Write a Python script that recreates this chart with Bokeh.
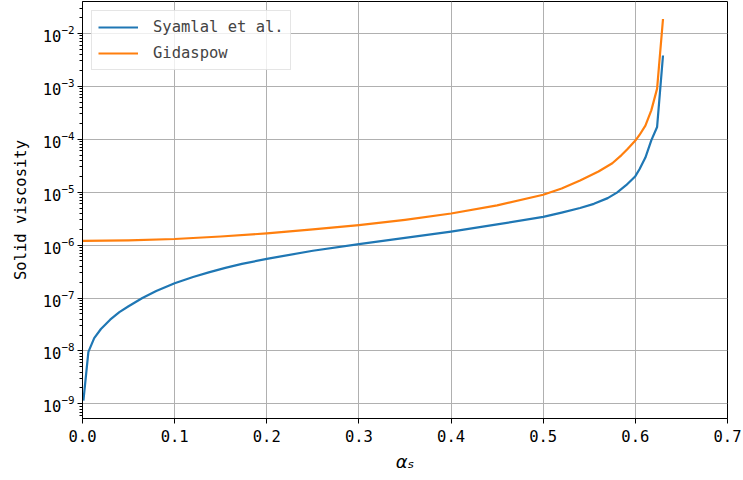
from bokeh.plotting import figure
from bokeh.models import (FixedTicker, CustomJSTickFormatter, LogTickFormatter, Legend,
                          LegendItem, Range1d, ColumnDataSource)
from bokeh.embed import file_html
from bokeh.resources import INLINE

# ---- data ----
syamlal_alpha = [0.001, 0.0064, 0.0127, 0.02, 0.03, 0.04, 0.05, 0.065, 0.08, 0.1, 0.12,
                 0.137, 0.155, 0.173, 0.2, 0.25, 0.3, 0.35, 0.4, 0.45, 0.5, 0.52, 0.54,
                 0.555, 0.57, 0.58, 0.59, 0.6, 0.6045, 0.6109, 0.6173, 0.6236, 0.63]
syamlal_mu = [1.15e-9, 9.6e-9, 1.75e-8, 2.6e-8, 3.9e-8, 5.4e-8, 7.0e-8, 1.0e-7, 1.35e-7,
              1.9e-7, 2.5e-7, 3.05e-7, 3.7e-7, 4.4e-7, 5.5e-7, 7.8e-7, 1.04e-6, 1.37e-6,
              1.8e-6, 2.45e-6, 3.4e-6, 4.1e-6, 5.0e-6, 6.0e-6, 7.7e-6, 9.8e-6, 1.35e-5,
              2.0e-5, 2.7e-5, 4.5e-5, 9.5e-5, 1.7e-4, 3.8e-3]

gidaspow_alpha = [0.0, 0.05, 0.1, 0.15, 0.2, 0.25, 0.3, 0.35, 0.4, 0.45, 0.5, 0.52, 0.54,
                  0.56, 0.575, 0.585, 0.5918, 0.6, 0.6045, 0.6109, 0.6173, 0.6236, 0.63]
gidaspow_mu = [1.2e-6, 1.23e-6, 1.3e-6, 1.45e-6, 1.66e-6, 1.97e-6, 2.38e-6, 3.0e-6, 3.95e-6,
               5.6e-6, 8.9e-6, 1.17e-5, 1.65e-5, 2.45e-5, 3.5e-5, 5.0e-5, 6.6e-5, 9.4e-5,
               1.2e-4, 1.8e-4, 3.5e-4, 9.0e-4, 1.86e-2]

series_names = ["Syamlal et al.", "Gidaspow"]
series_colors = ["#1f77b4", "#ff7f0e"]

x_ticks = [0.0, 0.1, 0.2, 0.3, 0.4, 0.5, 0.6, 0.7]
x_tick_labels = ["0.0", "0.1", "0.2", "0.3", "0.4", "0.5", "0.6", "0.7"]
y_ticks = [1e-9, 1e-8, 1e-7, 1e-6, 1e-5, 1e-4, 1e-3, 1e-2]
y_minor = [m * 10.0 ** k for k in range(-10, -1) for m in range(2, 10)]

FONT = "DejaVu Sans Mono"

p = figure(width=743, height=480, x_range=Range1d(0, 0.7),
           y_range=Range1d(5.3e-10, 3.98e-2), y_axis_type="log",
           output_backend="svg", toolbar_location=None,
           min_border_left=82, min_border_right=16, min_border_top=1,
           min_border_bottom=62)

p.outline_line_color = "black"
p.outline_line_width = 1
p.outline_line_alpha = 1.0

src1 = ColumnDataSource(dict(x=syamlal_alpha, y=syamlal_mu))
src2 = ColumnDataSource(dict(x=gidaspow_alpha, y=gidaspow_mu))
r1 = p.line("x", "y", source=src1, line_color=series_colors[0], line_width=2.2,
            line_join="round")
r2 = p.line("x", "y", source=src2, line_color=series_colors[1], line_width=2.2,
            line_join="round")

# axes
p.xaxis.ticker = FixedTicker(ticks=x_ticks)
p.xaxis.formatter = CustomJSTickFormatter(
    args=dict(vals=x_ticks, labels=x_tick_labels),
    code="""
    let best = 0, d = 1e9;
    for (let i = 0; i < vals.length; i++) { const dd = Math.abs(vals[i] - tick); if (dd < d) { d = dd; best = i; } }
    return labels[best];
    """)
p.yaxis.ticker = FixedTicker(ticks=y_ticks, minor_ticks=y_minor)
p.yaxis.formatter = LogTickFormatter()

for ax in (p.xaxis[0], p.yaxis[0]):
    ax.axis_line_color = "black"
    ax.major_tick_line_color = "black"
    ax.major_tick_in = 0
    ax.major_tick_out = 5
    ax.minor_tick_in = 0
    ax.minor_tick_out = 3
    ax.major_label_text_font = FONT
    ax.major_label_text_font_size = "15.5px"
    ax.major_label_text_color = "black"
    ax.axis_label_text_color = "black"

p.xaxis.minor_tick_line_color = None
p.yaxis.minor_tick_line_color = "black"
p.xaxis.major_label_standoff = 6
p.yaxis.major_label_standoff = 3

p.xaxis.axis_label = "αₛ"
p.xaxis.axis_label_text_font = "DejaVu Sans"
p.xaxis.axis_label_text_font_style = "italic"
p.xaxis.axis_label_text_font_size = "18px"
p.xaxis.axis_label_standoff = 6

p.yaxis.axis_label = "Solid viscosity"
p.yaxis.axis_label_text_font = FONT
p.yaxis.axis_label_text_font_style = "normal"
p.yaxis.axis_label_text_font_size = "15.5px"
p.yaxis.axis_label_standoff = 10

# grid
p.xgrid.ticker = FixedTicker(ticks=x_ticks)
p.ygrid.ticker = FixedTicker(ticks=y_ticks)
for g in (p.xgrid[0], p.ygrid[0]):
    g.grid_line_color = "#b0b0b0"
    g.grid_line_width = 1

# legend
legend = Legend(items=[LegendItem(label=series_names[0], renderers=[r1]),
                       LegendItem(label=series_names[1], renderers=[r2])],
                location="top_left", margin=9, padding=6, spacing=6,
                glyph_width=40, glyph_height=20, label_height=20, label_standoff=15,
                label_text_font=FONT, label_text_font_size="15.5px",
                border_line_color="#cccccc", border_line_width=1,
                background_fill_color="white", background_fill_alpha=0.8)
p.add_layout(legend, "center")

open("out.html", "w").write(file_html(p, INLINE))
